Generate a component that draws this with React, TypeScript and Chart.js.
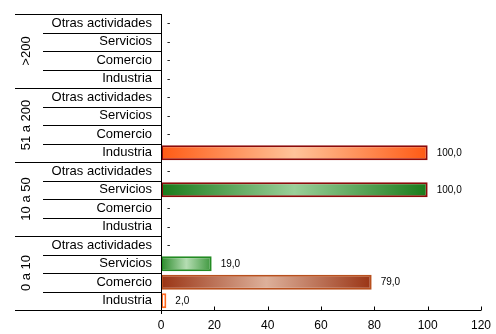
import React, { useEffect, useRef } from "react";
import { Chart, registerables } from "chart.js";

Chart.register(...registerables);

const groups = [">200", "51 a 200", "10 a 50", "0 a 10"];
const sectors = ["Otras actividades", "Servicios", "Comercio", "Industria"];
const values200: (number | null)[] = [null, null, null, null];
const values51: (number | null)[] = [null, null, null, 100.0];
const values10: (number | null)[] = [null, 100.0, null, null];
const values0: (number | null)[] = [null, 19.0, 79.0, 2.0];
const xTicks = [0, 20, 40, 60, 80, 100, 120];

const labels: string[] = [];
groups.forEach(() => sectors.forEach((s) => labels.push(s)));
const data = [...values200, ...values51, ...values10, ...values0];

const styles: Record<number, { stops: string[]; border: string }> = {
  7: { stops: ["#FF5A14", "#FFC39A", "#FF5A14"], border: "#8B0A0A" },
  9: { stops: ["#1A7A1A", "#9ACF99", "#1A7A1A"], border: "#8B0A0A" },
  13: { stops: ["#2A8A2A", "#B5DDB3", "#3C963C"], border: "#228B22" },
  14: { stops: ["#9A3414", "#DDB09A", "#9A3414"], border: "#B8501E" },
  15: { stops: ["#FFFFFF", "#FFFFFF", "#FFFFFF"], border: "#FF6A20" },
};

const FONT = "'Liberation Sans', Arial, sans-serif";

export default function App() {
  const ref = useRef<HTMLCanvasElement>(null);
  useEffect(() => {
    document.body.style.margin = "0";
    const canvas = ref.current!;
    const decor = {
      id: "decor",
      afterDraw(chart: any) {
        const ctx = chart.ctx;
        const ca = chart.chartArea;
        const ys = chart.scales.y;
        const xs = chart.scales.x;
        const n = labels.length;
        const step = (ca.bottom - ca.top) / n;
        ctx.save();
        ctx.strokeStyle = "#000";
        ctx.lineWidth = 1;
        for (let i = 0; i < n; i++) {
          const y = Math.round(ca.top + i * step) + 0.5;
          const isGroup = i % 4 === 0;
          const x0 = isGroup ? 15 : 43;
          ctx.beginPath();
          ctx.moveTo(x0, y);
          ctx.lineTo(ca.left, y);
          ctx.stroke();
        }
        const by = Math.round(ca.bottom) + 0.5;
        ctx.beginPath();
        ctx.moveTo(15, by);
        ctx.lineTo(ca.right, by);
        ctx.stroke();
        const ax = Math.round(ca.left) + 0.5;
        ctx.beginPath();
        ctx.moveTo(ax, ca.top);
        ctx.lineTo(ax, ca.bottom + 4);
        ctx.stroke();
        xTicks.forEach((t) => {
          const x = Math.round(xs.getPixelForValue(t)) + 0.5;
          ctx.beginPath();
          ctx.moveTo(x, by);
          ctx.lineTo(x, by - 4);
          ctx.stroke();
        });
        ctx.fillStyle = "#000";
        ctx.font = `13px ${FONT}`;
        ctx.textAlign = "center";
        ctx.textBaseline = "middle";
        groups.forEach((g, gi) => {
          const yc = ca.top + (gi * 4 + 2) * step;
          ctx.save();
          ctx.translate(26, yc);
          ctx.rotate(-Math.PI / 2);
          ctx.fillText(g, 0, 0);
          ctx.restore();
        });
        ctx.font = `10px ${FONT}`;
        ctx.textAlign = "left";
        data.forEach((v, i) => {
          const y = ys.getPixelForValue(i);
          if (v === null) {
            ctx.fillText("-", ca.left + 6, y);
          } else {
            const x = xs.getPixelForValue(v) + 9;
            ctx.fillText(v.toFixed(1).replace(".", ","), x, y);
          }
        });
        ctx.restore();
      },
    };
    const chart = new Chart(canvas, {
      type: "bar",
      data: {
        labels,
        datasets: [
          {
            data: data as any,
            barPercentage: 0.82,
            categoryPercentage: 1,
            borderWidth: 2,
            borderSkipped: false,
            borderColor: (c: any) => (styles[c.dataIndex] ? styles[c.dataIndex].border : "#000"),
            backgroundColor: (c: any) => {
              const st = styles[c.dataIndex];
              if (!st) return "#ccc";
              const chartObj = c.chart;
              if (!chartObj.chartArea) return st.stops[0];
              const xs = chartObj.scales.x;
              const v = data[c.dataIndex] as number;
              const x0 = xs.getPixelForValue(0);
              const x1 = xs.getPixelForValue(v);
              const g = chartObj.ctx.createLinearGradient(x0, 0, x1 + 0.01, 0);
              g.addColorStop(0, st.stops[0]);
              g.addColorStop(0.5, st.stops[1]);
              g.addColorStop(1, st.stops[2]);
              return g;
            },
          },
        ],
      },
      options: {
        indexAxis: "y",
        animation: false,
        responsive: false,
        layout: { padding: { top: 14, right: 15, left: 0, bottom: 0 } },
        plugins: { legend: { display: false }, tooltip: { enabled: false } },
        scales: {
          x: {
            min: 0,
            max: 120,
            afterBuildTicks: (s: any) => {
              s.ticks = xTicks.map((v) => ({ value: v }));
            },
            afterFit: (s: any) => {
              s.height = 24;
              s.paddingLeft = 0;
              s.paddingRight = 0;
            },
            grid: { display: false, drawTicks: false },
            border: { display: false },
            ticks: { color: "#000", font: { family: FONT, size: 12 }, padding: 8 },
          },
          y: {
            afterFit: (s: any) => {
              s.width = 161;
              s.paddingTop = 0;
              s.paddingBottom = 0;
            },
            grid: { display: false, drawTicks: false },
            border: { display: false },
            ticks: { color: "#000", font: { family: FONT, size: 13 }, padding: 9, autoSkip: false },
          },
        },
      },
      plugins: [decor],
    });
    return () => chart.destroy();
  }, []);
  return (
    <div style={{ width: 496, height: 334 }}>
      <canvas ref={ref} width={496} height={334} style={{ display: "block" }} />
    </div>
  );
}
